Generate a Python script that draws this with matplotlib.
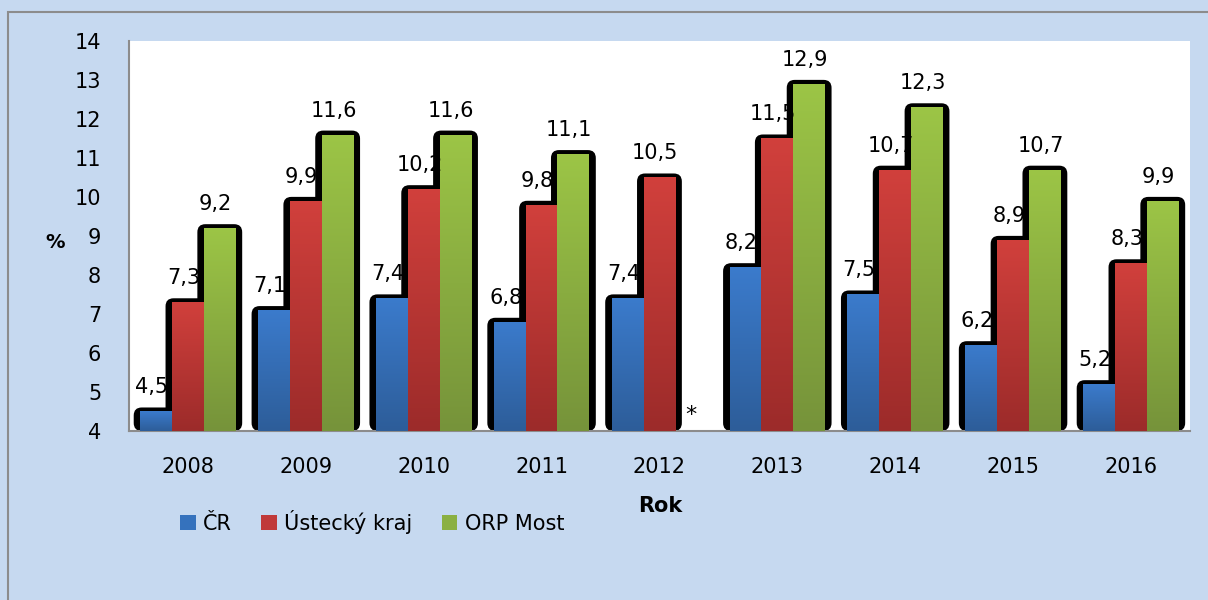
import numpy as np
import matplotlib
matplotlib.use('Agg')
import matplotlib.pyplot as plt
from matplotlib.patches import FancyBboxPatch, Rectangle, Patch
from matplotlib.colors import LinearSegmentedColormap

plt.rcParams['font.family'] = ['DejaVu Sans']

years = ['2008', '2009', '2010', '2011', '2012', '2013', '2014', '2015', '2016']
cr = [4.5, 7.1, 7.4, 6.8, 7.4, 8.2, 7.5, 6.2, 5.2]
ustecky = [7.3, 9.9, 10.2, 9.8, 10.5, 11.5, 10.7, 8.9, 8.3]
orp_most = [9.2, 11.6, 11.6, 11.1, None, 12.9, 12.3, 10.7, 9.9]
series_names = ['ČR', 'Ústecký kraj', 'ORP Most']

# gradient colours (top, bottom)
grads = [('#3b7bcc', '#2d5d99'), ('#d1403c', '#9c2b2a'), ('#9cc546', '#76933a')]
mids = ['#3572bd', '#c0393a', '#8bb042']

ymin, ymax = 4, 14
bw = 0.27

fig = plt.figure(figsize=(12.08, 6), dpi=100)
fig.patch.set_facecolor('#c6d9f0')
fig.patches.append(Rectangle((0.007, -0.01), 1.0, 0.99, transform=fig.transFigure,
                             fill=False, edgecolor='#8c8c8c', linewidth=1.5, zorder=0))

ax = fig.add_axes([0.1068, 0.2817, 0.8782, 0.65])
ax.set_facecolor('white')

x = np.arange(len(years))
data = [cr, ustecky, orp_most]
offsets = [-bw, 0, bw]

# px per unit, for rounded shadow corners
px_x = 0.8782 * 1208 / len(years)
px_y = 0.65 * 600 / (ymax - ymin)
masp = px_x / px_y

# shadows first
for vals, off in zip(data, offsets):
    for xi, v in zip(x, vals):
        if v is None:
            continue
        sw = bw + 13 / px_x
        sh = (v - ymin) + 4 / px_y
        p = FancyBboxPatch((xi + off - sw / 2, ymin), sw, sh,
                           boxstyle='round,pad=0,rounding_size=%f' % (8 / px_x),
                           mutation_aspect=masp, facecolor='black',
                           edgecolor='none', zorder=1)
        ax.add_patch(p)

# gradient bars
for vals, off, (ctop, cbot) in zip(data, offsets, grads):
    cmap = LinearSegmentedColormap.from_list('g', [cbot, ctop])
    grad = np.linspace(0, 1, 256).reshape(-1, 1)
    for xi, v in zip(x, vals):
        if v is None:
            continue
        bars = ax.bar(xi + off, v - ymin, bw, bottom=ymin, color=cbot, zorder=2,
                      linewidth=0)
        im = ax.imshow(grad, cmap=cmap, origin='lower', aspect='auto',
                       extent=(xi + off - bw / 2, xi + off + bw / 2, ymin, v),
                       zorder=3)
        im.set_clip_path(bars[0])
        ax.annotate(('%.1f' % v).replace('.', ','), (xi + off, v),
                    xytext=(-3, 13), textcoords='offset points',
                    ha='center', va='baseline', fontsize=15, zorder=5)

ax.text(x[4] + bw, ymin + 0.4, '*', ha='center', va='center', fontsize=16)

ax.set_xlim(-0.5, len(years) - 0.5)
ax.set_ylim(ymin, ymax)
ax.set_xticks(x)
ax.set_xticklabels(years, fontsize=15)
ax.set_yticks(range(ymin, ymax + 1))
ax.tick_params(axis='y', length=0, labelsize=15, pad=20)
ax.tick_params(axis='x', length=0, pad=19)
for s in ['top', 'right']:
    ax.spines[s].set_visible(False)
for s in ['left', 'bottom']:
    ax.spines[s].set_color('#8c8c8c')
    ax.spines[s].set_linewidth(1.5)

fig.text(55 / 1208, 1 - 242 / 600, '%', fontsize=14, fontweight='bold',
         ha='center', va='center')
fig.text(660 / 1208, 1 - 506 / 600, 'Rok', fontsize=15, fontweight='bold',
         ha='center', va='center')

handles = [Patch(facecolor=c, edgecolor='none') for c in mids]
leg = fig.legend(handles, series_names, loc='center left',
                 bbox_to_anchor=(172 / 1208, 1 - 522 / 600), ncol=3,
                 frameon=False, fontsize=15, handlelength=0.75, handleheight=0.75,
                 handletextpad=0.35, columnspacing=1.4, borderaxespad=0)

fig.savefig('out.png', dpi=100, facecolor=fig.get_facecolor())
